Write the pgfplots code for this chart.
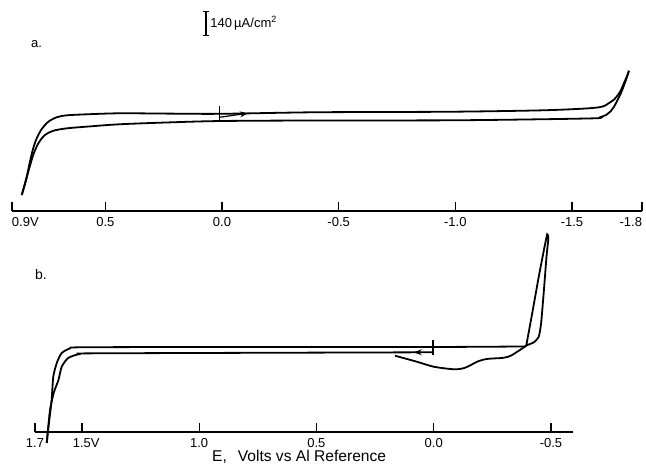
\documentclass[border=0pt]{standalone}
\usepackage{fontspec}
\setmainfont{Liberation Sans}
\usepackage{pgfplots}
\pgfplotsset{compat=1.18}
\usetikzlibrary{arrows.meta}

% current axis: uA/cm^2 (cathodic up), baseline = axis line; 140 uA/cm^2 = 12pt
\pgfplotsset{
  cv/.style={
    scale only axis, clip=false, x dir=reverse,
    axis x line*=bottom, axis y line=none, ytick=\empty,
    ymin=0,
    xtick align=inside, major tick length=4.5pt,
    tick style={black, line width=0.6pt},
    x axis line style={black, line width=0.6pt},
    xticklabel style={font=\fontsize{6.5}{7}\selectfont, inner sep=0pt, yshift=-3pt},
    every axis plot/.append style={black, line width=0.9pt, no markers},
  },
}

\begin{document}
\begin{tikzpicture}
\useasboundingbox (0,0) rectangle (323pt,-237pt);

% ---------- a. ----------
\begin{axis}[cv, at={(6pt,-105.5pt)}, anchor=south west,
  width=315pt, height=72pt, xmin=-1.8, xmax=0.9, ymax=840,
  xtick={0.9,0.5,0,-0.5,-1,-1.5,-1.8},
  xticklabels={\rlap{0.9V}, 0.5, 0.0, -0.5, -1.0, -1.5, \llap{-1.8}}]

% upper branch
\addplot[smooth, tension=0.5] coordinates {
  (0.858,93) (0.837,200) (0.823,288) (0.809,366) (0.794,424) (0.773,477)
  (0.744,521) (0.708,547) (0.666,558) (0.580,564) (0.437,570) (0.220,568)
  (0.000,567) (-0.403,576) (-0.973,579) (-1.363,587) (-1.547,597)
  (-1.616,605) (-1.642,615) (-1.659,630) (-1.680,650) (-1.697,677)
  (-1.710,706) (-1.723,747) (-1.736,787) (-1.744,818)};
% lower branch
\addplot[smooth, tension=0.5] coordinates {
  (-1.744,818) (-1.731,764) (-1.710,688) (-1.693,642) (-1.680,608)
  (-1.663,578) (-1.646,560) (-1.620,547) (-1.603,541) (-1.363,535)
  (-0.973,529) (-0.403,528) (0.000,525) (0.223,517) (0.437,506)
  (0.580,492) (0.666,482) (0.723,468) (0.759,443) (0.787,395)
  (0.809,327) (0.826,249) (0.842,169) (0.858,93)};
% start marker and scan direction
\addplot[line width=0.6pt] coordinates {(0.012,521) (0.012,612)};
\addplot[line width=0.6pt, -{Stealth[length=4pt,width=3pt]}] coordinates {(0.009,547) (-0.111,570)};

% scale bar 140 uA/cm^2
\draw[line width=0.6pt] (axis cs:0.0686,1024) -- (axis cs:0.0686,1164);
\draw[line width=0.6pt] ([xshift=-1.6pt]axis cs:0.0686,1164) -- ([xshift=1.6pt]axis cs:0.0686,1164);
\draw[line width=0.6pt] ([xshift=-1.6pt]axis cs:0.0686,1024) -- ([xshift=1.6pt]axis cs:0.0686,1024);
\node[anchor=west, inner sep=0pt, xshift=2pt, font=\fontsize{6.5}{7}\selectfont]
  at (axis cs:0.0686,1094) {140\,µA/cm\textsuperscript{2}};
\end{axis}

% ---------- b. ----------
\begin{axis}[cv, at={(17.5pt,-216pt)}, anchor=south west,
  width=269pt, height=102.86pt, xmin=-0.594, xmax=1.7, ymax=1200,
  xtick={1.7,1.5,1,0.5,0,-0.5},
  xticklabels={1.7, 1.5\rlap{V}, 1.0, 0.5, 0.0, -0.5},
  xlabel={E,\hspace{0.7em}Volts vs Al Reference},
  xlabel style={at={(axis description cs:0.491,0)}, anchor=north,
    inner sep=0pt, yshift=-8.7pt, font=\fontsize{7.8}{9}\selectfont}]

% upper branch
\addplot[smooth, tension=0.4] coordinates {
  (1.650,-64) (1.639,70) (1.629,187) (1.622,323) (1.607,403) (1.586,461)
  (1.550,488) (1.508,494) (0.995,496) (0.000,496) (-0.394,499)};
% deposition / stripping loop
\addplot[smooth, tension=0.3] coordinates {
  (-0.394,499) (-0.420,692) (-0.448,906) (-0.470,1062) (-0.484,1153)
  (-0.489,1130) (-0.481,1023) (-0.470,828) (-0.458,634) (-0.448,556)
  (-0.427,523) (-0.395,505)};
% lower branch
\addplot[smooth, tension=0.4] coordinates {
  (1.650,-64) (1.636,128) (1.619,233) (1.600,303) (1.586,381)
  (1.558,432) (1.508,455) (1.422,459) (0.000,465)};
% initial scan
\addplot[smooth, tension=0.5] coordinates {
  (0.165,445) (0.072,410) (0.000,381) (-0.085,366) (-0.128,372)
  (-0.159,391) (-0.185,410) (-0.227,426) (-0.299,433) (-0.330,446)
  (-0.356,468) (-0.377,487) (-0.395,505)};
% start marker and scan direction
\addplot[line width=0.6pt] coordinates {(0.003,449) (0.003,537)};
\addplot[line width=0.6pt, -{Stealth[length=4pt,width=3pt]}] coordinates {(0.000,465) (0.085,465)};
\end{axis}

\node[font=\fontsize{6.5}{7}\selectfont] at (18.25pt,-22pt) {a.};
\node[font=\fontsize{7}{8}\selectfont] at (20.5pt,-137.25pt) {b.};
\end{tikzpicture}
\end{document}
